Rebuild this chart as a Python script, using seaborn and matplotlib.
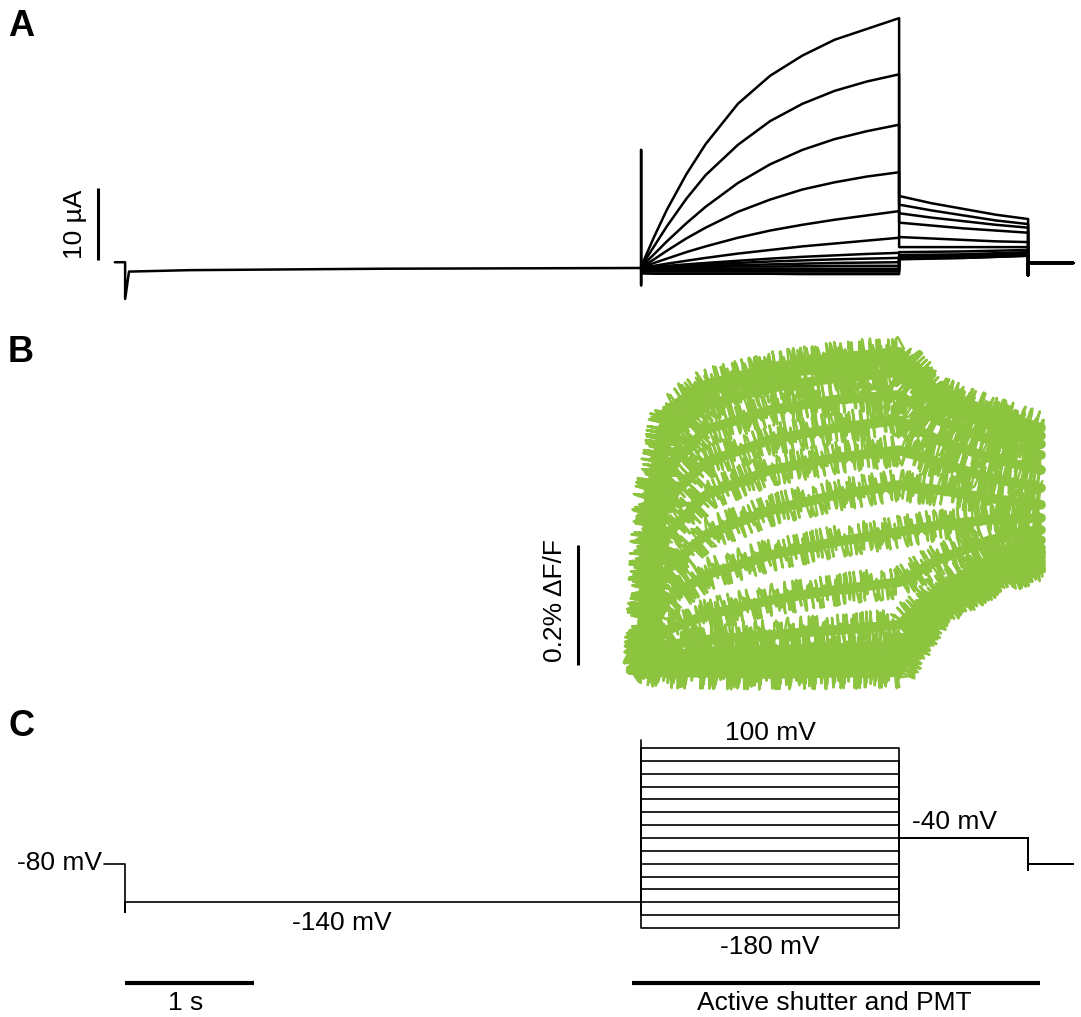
import matplotlib
matplotlib.use("Agg")
import matplotlib.pyplot as plt
import pandas as pd
import seaborn as sns

# test voltages, one sweep each (mV)
STEPS_MV = [100, 80, 60, 40, 20, 0, -20, -40, -60, -80, -100, -120, -140, -160, -180]

# ---- A: membrane current (uA)
PRE_T = [-0.08, 0.0, 0.0, 0.03, 0.5, 2.0, 4.0, 4.0, 4.0, 4.0]
PRE_I = [0.8, 0.8, -4.3, -0.5, -0.3, -0.1, 0.0, 16.4, -2.4, 0.0]
TEST_T = [4.0, 4.1, 4.2, 4.35, 4.5, 4.75, 5.0, 5.25, 5.5, 5.75, 6.0]
TEST_I = [
    [0.2, 4.3, 8.1, 13.0, 17.2, 22.8, 26.7, 29.5, 31.7, 33.2, 34.7],
    [0.2, 3.0, 5.8, 9.6, 12.9, 17.1, 20.4, 22.8, 24.6, 25.9, 26.9],
    [0.2, 1.9, 3.7, 6.2, 8.5, 11.8, 14.4, 16.4, 17.9, 19.0, 19.9],
    [0.1, 1.2, 2.4, 4.1, 5.6, 7.8, 9.5, 10.9, 11.9, 12.7, 13.3],
    [0.1, 0.7, 1.3, 2.2, 3.0, 4.2, 5.2, 6.0, 6.7, 7.3, 7.9],
    [0.1, 0.3, 0.6, 1.0, 1.4, 2.0, 2.5, 3.0, 3.4, 3.8, 4.2],
    [0.0, 0.15, 0.3, 0.5, 0.7, 1.0, 1.3, 1.55, 1.75, 1.95, 2.1],
    [0.0, 0.1, 0.2, 0.35, 0.5, 0.7, 0.9, 1.05, 1.2, 1.3, 1.4],
    [0.0, 0.05, 0.1, 0.2, 0.3, 0.4, 0.5, 0.6, 0.7, 0.75, 0.8],
    [0.0, 0.0, 0.05, 0.1, 0.15, 0.2, 0.2, 0.25, 0.3, 0.3, 0.3],
    [-0.1, -0.1, -0.1, -0.1, -0.1, -0.1, -0.1, -0.1, -0.1, -0.1, -0.1],
    [-0.2, -0.2, -0.2, -0.2, -0.2, -0.2, -0.2, -0.2, -0.2, -0.2, -0.2],
    [-0.35, -0.35, -0.35, -0.35, -0.35, -0.35, -0.35, -0.35, -0.35, -0.35, -0.35],
    [-0.5, -0.5, -0.5, -0.5, -0.5, -0.5, -0.5, -0.5, -0.5, -0.5, -0.5],
    [-0.75, -0.8, -0.8, -0.8, -0.8, -0.8, -0.8, -0.85, -0.85, -0.85, -0.85],
]
TAIL_T = [6.0, 6.25, 6.5, 6.75, 7.0]
TAIL_I = [
    [10.0, 9.0, 8.2, 7.4, 6.8],
    [8.8, 8.0, 7.3, 6.6, 6.1],
    [7.6, 7.0, 6.5, 6.0, 5.6],
    [6.3, 5.9, 5.5, 5.2, 4.9],
    [4.3, 4.1, 3.9, 3.7, 3.6],
    [2.9, 2.9, 2.9, 2.9, 2.9],
    [2.2, 2.25, 2.3, 2.4, 2.5],
    [1.8, 1.85, 1.9, 2.05, 2.2],
    [1.6, 1.65, 1.7, 1.85, 2.0],
    [1.5, 1.55, 1.6, 1.75, 1.9],
    [1.4, 1.5, 1.6, 1.75, 1.9],
    [1.4, 1.45, 1.5, 1.65, 1.8],
    [1.3, 1.4, 1.5, 1.65, 1.8],
    [1.3, 1.35, 1.4, 1.55, 1.7],
    [1.2, 1.3, 1.4, 1.55, 1.7],
]
POST_T = [7.0, 7.0, 7.35]
POST_I = [-1.0, 0.7, 0.7]

# ---- B: fluorescence (% dF/F), centre line of each noisy trace
TIMES_B = [3.92, 3.99, 4.06, 4.2, 4.5, 5.0, 5.5, 6.0, 6.3, 6.7, 7.1]
FLUO = [
    [-0.008, 0, 0.275, 0.425, 0.467, 0.495, 0.512, 0.522, 0.455, 0.422, 0.395],
    [-0.008, 0, 0.242, 0.400, 0.455, 0.483, 0.498, 0.508, 0.445, 0.412, 0.382],
    [-0.008, 0, 0.208, 0.375, 0.433, 0.462, 0.478, 0.488, 0.433, 0.400, 0.368],
    [-0.008, 0, 0.175, 0.325, 0.392, 0.425, 0.442, 0.450, 0.408, 0.375, 0.350],
    [-0.008, 0, 0.142, 0.275, 0.338, 0.375, 0.395, 0.408, 0.375, 0.345, 0.325],
    [-0.008, 0, 0.108, 0.217, 0.283, 0.325, 0.345, 0.358, 0.338, 0.312, 0.295],
    [-0.008, 0, 0.075, 0.158, 0.217, 0.258, 0.283, 0.300, 0.292, 0.278, 0.267],
    [-0.008, 0, 0.050, 0.108, 0.150, 0.183, 0.205, 0.222, 0.233, 0.242, 0.245],
    [-0.008, 0, 0.028, 0.058, 0.083, 0.108, 0.125, 0.138, 0.175, 0.208, 0.225],
    [-0.008, 0, 0.017, 0.033, 0.042, 0.050, 0.058, 0.067, 0.125, 0.175, 0.208],
    [-0.008, 0, 0.008, 0.017, 0.022, 0.025, 0.028, 0.033, 0.108, 0.158, 0.195],
    [-0.008, 0, 0.003, 0.007, 0.008, 0.010, 0.013, 0.017, 0.100, 0.150, 0.187],
    [-0.008, 0, 0.000, 0.000, 0.000, 0.002, 0.003, 0.005, 0.095, 0.143, 0.180],
    [-0.008, 0, -0.003, -0.005, -0.007, -0.007, -0.005, -0.005, 0.092, 0.140, 0.173],
    [-0.008, 0, -0.008, -0.012, -0.013, -0.015, -0.013, -0.012, 0.088, 0.137, 0.167],
]

# ---- C: voltage protocol (mV)
C_PRE_T = [-0.16, 0.0, 0.0, 0.0, 4.0, 4.0]
C_PRE_V = [-80, -80, -155, -140, -140, 112]
C_SWEEP_T = [4.0, 4.0, 6.0, 6.0, 7.0, 7.0, 7.0, 7.35]
TAIL_MV = -40
HOLD_MV = -80

GREEN = "#8cc43f"
XLIM = (-0.97, 7.41)

sns.set_style("white")
plt.rcParams["font.family"] = ["Liberation Sans", "DejaVu Sans"]
plt.rcParams["text.color"] = "black"
FS = 19

fig = plt.figure(figsize=(10.81, 10.17), dpi=100)
axA = fig.add_axes([0, 1 - 305 / 1017, 1, 305 / 1017])
axB = fig.add_axes([0, 1 - 710 / 1017, 1, 405 / 1017])
axC = fig.add_axes([0, 0, 1, 307 / 1017])
for ax in (axA, axB, axC):
    ax.set_xlim(*XLIM)
    ax.set_axis_off()
    ax.patch.set_alpha(0)
axA.set_ylim(-5.14, 37.22)
axB.set_ylim(-0.075, 0.6)
axC.set_ylim(-318.4, 159.1)

# A
rows = [("pre", t, i) for t, i in zip(PRE_T, PRE_I)]
for k, v in enumerate(STEPS_MV):
    ts = TEST_T + TAIL_T + POST_T
    ys = TEST_I[k] + TAIL_I[k] + POST_I
    rows += [(str(v), t, i) for t, i in zip(ts, ys)]
dfA = pd.DataFrame(rows, columns=["sweep", "t", "current"])
sns.lineplot(data=dfA, x="t", y="current", units="sweep", estimator=None, sort=False,
             color="black", linewidth=1.8, ax=axA, legend=False)
axA.plot([-0.21, -0.21], [1.1, 11.1], color="black", lw=2.2, solid_capstyle="butt")
axA.text(-0.39, 6.1, "10 µA", rotation=90, ha="center", va="center", fontsize=FS)

# B: PMT traces = solid core + sketch-filtered copy for the noise
rows = []
for v, trace in zip(STEPS_MV, FLUO):
    rows += [(str(v), t, f) for t, f in zip(TIMES_B, trace)]
dfB = pd.DataFrame(rows, columns=["sweep", "t", "dff"])
sns.lineplot(data=dfB, x="t", y="dff", units="sweep", estimator=None, sort=False,
             color=GREEN, linewidth=7, ax=axB, legend=False)
n_core = len(axB.lines)
sns.lineplot(data=dfB, x="t", y="dff", units="sweep", estimator=None, sort=False,
             color=GREEN, linewidth=1.8, ax=axB, legend=False)
for line in axB.lines[n_core:]:
    line.set_sketch_params(scale=16, length=0.6, randomness=30)
axB.plot([3.51, 3.51], [0.0, 0.2], color="black", lw=2.2, solid_capstyle="butt")
axB.text(3.33, 0.108, "0.2% ΔF/F", rotation=90, ha="center", va="center", fontsize=FS)

# C
rows = [("pre", t, v) for t, v in zip(C_PRE_T, C_PRE_V)]
for v in STEPS_MV:
    vs = [-140, v, v, TAIL_MV, TAIL_MV, -90, HOLD_MV, HOLD_MV]
    rows += [(str(v), t, y) for t, y in zip(C_SWEEP_T, vs)]
dfC = pd.DataFrame(rows, columns=["sweep", "t", "mV"])
sns.lineplot(data=dfC, x="t", y="mV", units="sweep", estimator=None, sort=False,
             color="black", linewidth=1.2, ax=axC, legend=False)
axC.text(5.0, 123, "100 mV", ha="center", va="center", fontsize=FS)
axC.text(5.0, -210, "-180 mV", ha="center", va="center", fontsize=FS)
axC.text(6.43, -15, "-40 mV", ha="center", va="center", fontsize=FS)
axC.text(-0.18, -79, "-80 mV", ha="right", va="center", fontsize=FS)
axC.text(1.68, -172, "-140 mV", ha="center", va="center", fontsize=FS)

axC.plot([0.0, 1.0], [-266, -266], color="black", lw=3, solid_capstyle="butt")
axC.text(0.47, -297, "1 s", ha="center", va="center", fontsize=FS)
axC.plot([3.93, 7.09], [-266, -266], color="black", lw=3, solid_capstyle="butt")
axC.text(5.5, -297, "Active shutter and PMT", ha="center", va="center", fontsize=FS)

for letter, ypx in (("A", 27), ("B", 353), ("C", 727)):
    fig.text(8 / 1081, 1 - ypx / 1017, letter, ha="left", va="center",
             fontsize=26, fontweight="bold")

fig.savefig("out.png", dpi=100)
